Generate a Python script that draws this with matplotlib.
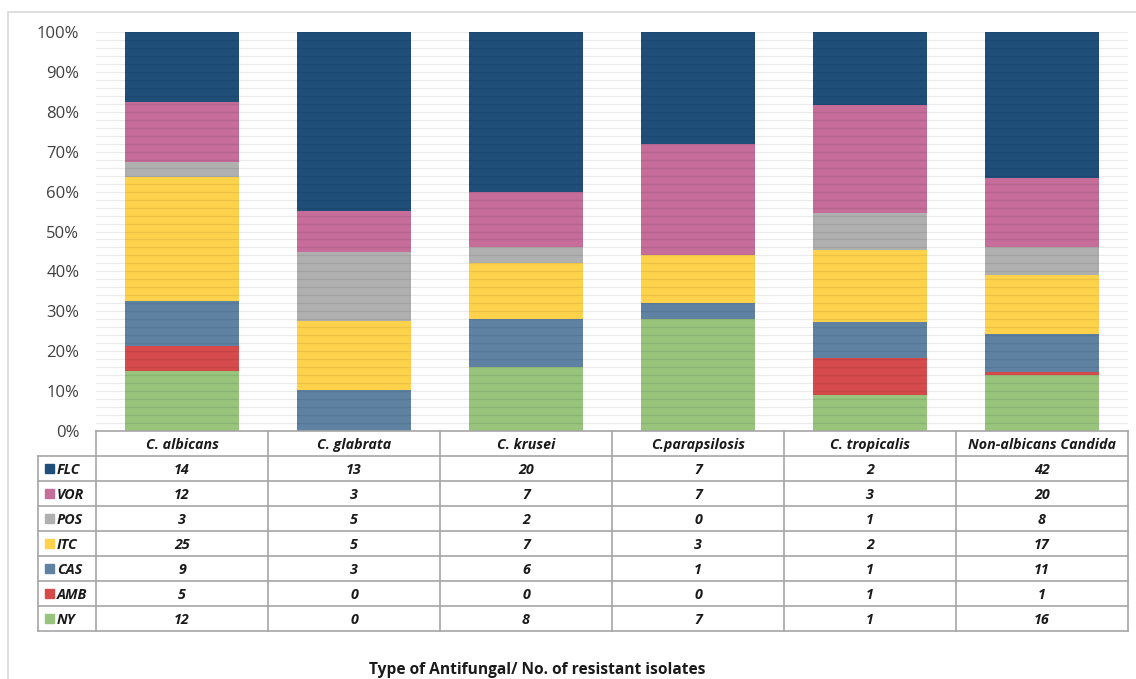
import numpy as np
import matplotlib.pyplot as plt
from matplotlib.patches import Rectangle
import matplotlib.ticker as mtick

plt.rcParams["font.family"] = ["Open Sans", "DejaVu Sans"]

species = ["C. albicans", "C. glabrata", "C. krusei", "C.parapsilosis",
           "C. tropicalis", "Non-albicans Candida"]
# drug order from the bottom of each bar to the top
drugs = ["NY", "AMB", "CAS", "ITC", "POS", "VOR", "FLC"]
NY = [12, 0, 8, 7, 1, 16]
AMB = [5, 0, 0, 0, 1, 1]
CAS = [9, 3, 6, 1, 1, 11]
ITC = [25, 5, 7, 3, 2, 17]
POS = [3, 5, 2, 0, 1, 8]
VOR = [12, 3, 7, 7, 3, 20]
FLC = [14, 13, 20, 7, 2, 42]
colors = ["#98C47C", "#D64A4B", "#5F82A3", "#FFD24C", "#B0B0B0", "#C66D9A", "#1F4E79"]

counts = np.array([NY, AMB, CAS, ITC, POS, VOR, FLC], dtype=float)
shares = 100 * counts / counts.sum(axis=0)

W, H = 1136, 679
fig = plt.figure(figsize=(W / 100, H / 100), dpi=100)

def fbox(x0, y0, x1, y1):
    # pixel box (top-left origin) -> figure fraction rect
    return [x0 / W, 1 - y1 / H, (x1 - x0) / W, (y1 - y0) / H]

# outer frame
fig.patches.append(Rectangle((8 / W, -0.1), 1.2, 1 - 12 / H + 0.1, transform=fig.transFigure,
                             fill=False, edgecolor="#D9D9D9", lw=1.2))

ax = fig.add_axes(fbox(96, 32, 1128, 431))
x = np.arange(len(species))
bottom = np.zeros(len(species))
for i, d in enumerate(drugs):
    ax.bar(x, shares[i], 0.66, bottom=bottom, color=colors[i], zorder=2)
    bottom += shares[i]

ax.set_xlim(-0.5, len(species) - 0.5)
ax.set_ylim(0, 100)
ax.set_yticks(np.arange(0, 101, 10))
ax.set_yticks(np.arange(0, 101, 2), minor=True)
ax.yaxis.set_major_formatter(mtick.PercentFormatter(decimals=0))
ax.tick_params(axis="y", which="both", length=0, labelsize=12, labelcolor="#404040", pad=12)
ax.set_xticks([])
for s in ax.spines.values():
    s.set_visible(False)
ax.grid(axis="y", which="both", color="#000000", alpha=0.08, lw=0.9, zorder=3)
ax.set_axisbelow(False)

# data table under the bars
tax = fig.add_axes(fbox(38, 431, 1128, 631))
lab_left = -0.5 - (96 - 38) / 172
tax.set_xlim(lab_left, len(species) - 0.5)
tax.set_ylim(8, 0)
tax.axis("off")
grid_c = "#A6A6A6"
tax.plot([-0.5, len(species) - 0.5], [0, 0], color=grid_c, lw=1.2, clip_on=False)
for r in range(1, 9):
    tax.plot([lab_left, len(species) - 0.5], [r, r], color=grid_c, lw=1.2, clip_on=False)
for c in range(len(species) + 1):
    tax.plot([c - 0.5, c - 0.5], [0, 8], color=grid_c, lw=1.2, clip_on=False)
tax.plot([lab_left, lab_left], [1, 8], color=grid_c, lw=1.2, clip_on=False)

txt = dict(fontsize=10.3, fontweight="bold", fontstyle="italic", color="#1A1A1A",
           ha="center", va="center_baseline")
for j, name in enumerate(species):
    tax.text(j, 0.5, name, **txt)

for r, i in enumerate(range(len(drugs) - 1, -1, -1)):
    y = r + 1.5
    tax.add_patch(Rectangle((lab_left + 0.04, y - 0.18), 0.052, 0.36,
                            color=colors[i], clip_on=False))
    tax.text(lab_left + 0.11, y, drugs[i], **{**txt, "ha": "left"})
    for j in range(len(species)):
        tax.text(j, y, f"{int(counts[i, j])}", **txt)

fig.text(537 / W, 1 - 668 / H, "Type of Antifungal/ No. of resistant isolates",
         ha="center", va="center_baseline", fontsize=11.2, fontweight="bold", color="#1A1A1A")

plt.savefig("out.png", dpi=100)
